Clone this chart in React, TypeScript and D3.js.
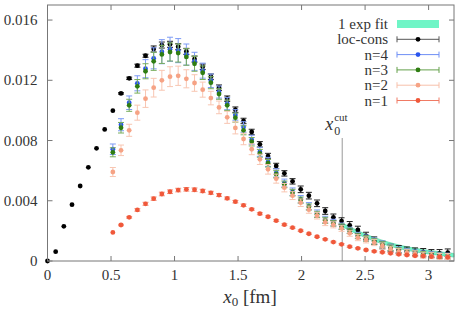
import React, { useRef, useEffect } from 'react';
import * as d3 from 'd3';

// lattice spacing in fm, x0 = i * a
const latticeA = 0.0643;

const locCons = [0, 0.00062, 0.0023, 0.00374, 0.00498, 0.00622, 0.00748, 0.00874, 0.00998, 0.01113,
  0.01213, 0.01297, 0.01363, 0.01408, 0.01434, 0.01439, 0.01423, 0.01392, 0.01341, 0.0129,
  0.01224, 0.01151, 0.01078, 0.01005, 0.0093, 0.00857, 0.00775, 0.00697, 0.00631, 0.00582,
  0.00529, 0.00476, 0.00434, 0.00383, 0.00332, 0.0029, 0.00265, 0.00237, 0.00206, 0.00166,
  0.00135, 0.00106, 0.00086, 0.00078, 0.00068, 0.00062, 0.00058, 0.00051, 0.00051, 0.00055];
const locConsErr = [0, 0.00003, 0.00003, 0.00003, 0.00003, 0.00003, 0.00003, 0.00003, 0.00003, 0.00005,
  0.00008, 0.0001, 0.0001, 0.0002, 0.0002, 0.0002, 0.0002, 0.0002, 0.0002, 0.00018,
  0.00018, 0.00018, 0.00018, 0.00018, 0.00018, 0.00018, 0.00018, 0.00018, 0.00018, 0.00018,
  0.00018, 0.00022, 0.00022, 0.00022, 0.00022, 0.00022, 0.00022, 0.00025, 0.00025, 0.00025,
  0.00025, 0.00025, 0.00025, 0.00025, 0.00025, 0.00025, 0.00025, 0.00025, 0.00025, 0.00025];

// n-series start at i = 8
const nStart = 8;
const n4 = [0.00742, 0.00905, 0.01051, 0.0118, 0.01277, 0.01346, 0.0139, 0.01406, 0.01397, 0.01371,
  0.01326, 0.01264, 0.01197, 0.01122, 0.01045, 0.0097, 0.0089, 0.00805, 0.00725, 0.00658,
  0.00585, 0.00518, 0.0046, 0.0041, 0.00364, 0.00315, 0.00275, 0.00255, 0.00232, 0.00204,
  0.0017, 0.00153, 0.00133, 0.00113, 0.0009, 0.00073, 0.00063, 0.00053, 0.00047, 0.00042,
  0.00037, 0.00032];
const n4Err = [0.00035, 0.0004, 0.00045, 0.0005, 0.0006, 0.0007, 0.0008, 0.0008, 0.0008, 0.0007,
  0.0006, 0.0005, 0.00045, 0.0004, 0.0004, 0.00035, 0.00035, 0.0003, 0.0003, 0.0003,
  0.00028, 0.00026, 0.00025, 0.00025, 0.00024, 0.00024, 0.00022, 0.00022, 0.0002, 0.0002,
  0.0002, 0.0002, 0.0002, 0.0002, 0.0002, 0.0002, 0.0002, 0.0002, 0.0002, 0.0002,
  0.0002, 0.0002];
const n3 = [0.00722, 0.00885, 0.01034, 0.0116, 0.0126, 0.01326, 0.01372, 0.01388, 0.01381, 0.01355,
  0.0131, 0.0125, 0.01184, 0.01109, 0.01034, 0.00952, 0.00868, 0.00792, 0.00715, 0.00649,
  0.00576, 0.00509, 0.00454, 0.00405, 0.00359, 0.0031, 0.0027, 0.0025, 0.00228, 0.002,
  0.00166, 0.0015, 0.0013, 0.0011, 0.00088, 0.0007, 0.0006, 0.0005, 0.00045, 0.0004,
  0.00035, 0.0003];
const n3Err = [0.0003, 0.00035, 0.0004, 0.00045, 0.0005, 0.0006, 0.0006, 0.0006, 0.0006, 0.00055,
  0.0005, 0.00045, 0.0004, 0.00035, 0.00035, 0.0003, 0.0003, 0.00028, 0.00026, 0.00025,
  0.00024, 0.00022, 0.00022, 0.0002, 0.0002, 0.0002, 0.0002, 0.00018, 0.00018, 0.00018,
  0.00018, 0.00018, 0.00018, 0.00018, 0.00018, 0.00018, 0.00018, 0.00018, 0.00018, 0.00018,
  0.00018, 0.00018];
const n2 = [0.00591, 0.00735, 0.00868, 0.00985, 0.01078, 0.01151, 0.012, 0.01224, 0.0123, 0.0121,
  0.01182, 0.01138, 0.01082, 0.0102, 0.00954, 0.00884, 0.0081, 0.00742, 0.00675, 0.00609,
  0.00547, 0.00487, 0.00434, 0.00387, 0.00341, 0.00301, 0.00257, 0.0024, 0.00217, 0.00184,
  0.00155, 0.0014, 0.00122, 0.001, 0.00078, 0.00062, 0.00055, 0.00047, 0.00038, 0.00035,
  0.0003, 0.0003];
const n2Err = [0.0003, 0.00035, 0.0004, 0.0005, 0.00058, 0.00062, 0.00066, 0.00066, 0.00064, 0.0006,
  0.00055, 0.0005, 0.00045, 0.00042, 0.0004, 0.0004, 0.00038, 0.00036, 0.00034, 0.00032,
  0.0003, 0.00028, 0.00026, 0.00025, 0.00024, 0.00022, 0.00022, 0.0002, 0.0002, 0.0002,
  0.0002, 0.0002, 0.0002, 0.0002, 0.0002, 0.0002, 0.0002, 0.0002, 0.0002, 0.0002,
  0.0002, 0.0002];
const n1 = [0.0019, 0.00239, 0.0029, 0.00339, 0.0038, 0.00414, 0.00445, 0.0046, 0.00471, 0.00476,
  0.00473, 0.00465, 0.00453, 0.00438, 0.00416, 0.00394, 0.0037, 0.00343, 0.00314, 0.00294,
  0.00268, 0.00241, 0.00221, 0.00201, 0.00181, 0.00161, 0.00144, 0.00126, 0.00111, 0.00095,
  0.00084, 0.00073, 0.00064, 0.00058, 0.00051, 0.00044, 0.0004, 0.00035, 0.00033, 0.00029,
  0.00027, 0.00025];
const n1Err = [0.00004, 0.00005, 0.00006, 0.00008, 0.0001, 0.00011, 0.00012, 0.00012, 0.00012, 0.00012,
  0.00012, 0.00011, 0.0001, 0.0001, 0.00009, 0.00008, 0.00008, 0.00007, 0.00007, 0.00006,
  0.00006, 0.00006, 0.00005, 0.00005, 0.00005, 0.00005, 0.00005, 0.00005, 0.00005, 0.00005,
  0.00005, 0.00005, 0.00005, 0.00005, 0.00005, 0.00005, 0.00005, 0.00005, 0.00005, 0.00005,
  0.00005, 0.00005];

// 1 exp fit band
const fitX = [2.32, 2.5, 2.75, 3.0, 3.2];
const fitY = [0.0024, 0.00168, 0.00098, 0.00059, 0.00038];
const fitHalfWidth = 0.00012;
const x0Cut = 2.32;

const xTicks = [0, 0.5, 1, 1.5, 2, 2.5, 3];
const yTicks = [0, 0.004, 0.008, 0.012, 0.016];
const yTickLabels = ['0', '0.004', '0.008', '0.012', '0.016'];

interface Series {
  label: string;
  values: number[];
  errs: number[];
  start: number;
  color: string;
  barColor: string;
}

const series: Series[] = [
  { label: 'loc-cons', values: locCons, errs: locConsErr, start: 0, color: '#000000', barColor: '#222222' },
  { label: 'n=4', values: n4, errs: n4Err, start: nStart, color: '#2a55ee', barColor: '#7d9bf5' },
  { label: 'n=3', values: n3, errs: n3Err, start: nStart, color: '#2f7d12', barColor: '#78ad5c' },
  { label: 'n=2', values: n2, errs: n2Err, start: nStart, color: '#f6a385', barColor: '#f8c6b2' },
  { label: 'n=1', values: n1, errs: n1Err, start: nStart, color: '#f0583a', barColor: '#f3947f' },
];

const legendLine: Record<string, string> = {
  'loc-cons': '#555555', 'n=4': '#6f8ff5', 'n=3': '#64a04a', 'n=2': '#f7c0aa', 'n=1': '#f07a64',
};

const W = 457, H = 314;
const margin = { top: 5, right: 3, bottom: 53, left: 47.5 };
const font = 'Liberation Serif, Times New Roman, serif';

const Chart: React.FC = () => {
  const ref = useRef<SVGSVGElement>(null);

  useEffect(() => {
    if (!ref.current) return;
    const svg = d3.select(ref.current);
    svg.selectAll('*').remove();

    const x = d3.scaleLinear().domain([0, 3.2]).range([margin.left, W - margin.right]);
    const y = d3.scaleLinear().domain([0, 0.017]).range([H - margin.bottom, margin.top]);
    const [x0, x1] = x.range();
    const [y0, y1] = y.range();
    const axisColor = '#777';
    const textColor = '#333';

    // fit band
    const band = d3.area<number>()
      .x((d, i) => x(fitX[i]))
      .y0((d) => y(d - fitHalfWidth))
      .y1((d) => y(d + fitHalfWidth))
      .curve(d3.curveMonotoneX);
    svg.append('path').datum(fitY).attr('d', band)
      .attr('fill', '#6ff5c6').attr('stroke', '#3fcf9a').attr('stroke-width', 0.6);

    // cut line
    svg.append('line')
      .attr('x1', x(x0Cut)).attr('x2', x(x0Cut))
      .attr('y1', 138).attr('y2', y0)
      .attr('stroke', '#999').attr('stroke-width', 1);

    const cut = svg.append('text').attr('x', x(x0Cut) - 17).attr('y', 130)
      .style('font-family', font).attr('fill', textColor);
    cut.append('tspan').attr('font-style', 'italic').attr('font-size', 18).text('x');
    cut.append('tspan').attr('font-size', 11).attr('dy', -9).attr('dx', 1).text('cut');
    svg.append('text').attr('x', x(x0Cut) - 8).attr('y', 135)
      .style('font-family', font).attr('font-size', 12).attr('fill', textColor).text('0');

    // series
    series.forEach((s) => {
      const g = svg.append('g');
      const pts = s.values.map((v, k) => ({ xv: (s.start + k) * latticeA, v, e: s.errs[k] }));
      const withErr = pts.filter((p) => p.e > 0.00004);
      g.selectAll('line.v').data(withErr).enter().append('line')
        .attr('x1', (d) => x(d.xv)).attr('x2', (d) => x(d.xv))
        .attr('y1', (d) => y(d.v - d.e)).attr('y2', (d) => y(d.v + d.e))
        .attr('stroke', s.barColor).attr('stroke-width', 1);
      [-1, 1].forEach((sign) => {
        g.selectAll(`line.c${sign}`).data(withErr).enter().append('line')
          .attr('x1', (d) => x(d.xv) - 3).attr('x2', (d) => x(d.xv) + 3)
          .attr('y1', (d) => y(d.v + sign * d.e)).attr('y2', (d) => y(d.v + sign * d.e))
          .attr('stroke', s.barColor).attr('stroke-width', 1);
      });
      g.selectAll('circle').data(pts).enter().append('circle')
        .attr('cx', (d) => x(d.xv)).attr('cy', (d) => y(d.v))
        .attr('r', 2.4).attr('fill', s.color);
    });

    // frame
    svg.append('rect').attr('x', x0).attr('y', y1).attr('width', x1 - x0).attr('height', y0 - y1)
      .attr('fill', 'none').attr('stroke', axisColor).attr('stroke-width', 1);

    // ticks
    xTicks.forEach((t) => {
      svg.append('line').attr('x1', x(t)).attr('x2', x(t)).attr('y1', y0).attr('y2', y0 - 5)
        .attr('stroke', axisColor);
      svg.append('line').attr('x1', x(t)).attr('x2', x(t)).attr('y1', y1).attr('y2', y1 + 5)
        .attr('stroke', axisColor);
      svg.append('text').attr('x', x(t)).attr('y', 280).attr('text-anchor', 'middle')
        .style('font-family', font).attr('font-size', 15).attr('fill', textColor).text(String(t));
    });
    yTicks.forEach((t, i) => {
      svg.append('line').attr('x1', x0).attr('x2', x0 + 5).attr('y1', y(t)).attr('y2', y(t))
        .attr('stroke', axisColor);
      svg.append('line').attr('x1', x1).attr('x2', x1 - 5).attr('y1', y(t)).attr('y2', y(t))
        .attr('stroke', axisColor);
      svg.append('text').attr('x', 37.5).attr('y', y(t) + 5).attr('text-anchor', 'end')
        .style('font-family', font).attr('font-size', 15).attr('fill', textColor).text(yTickLabels[i]);
    });

    // x label
    const xl = svg.append('text').attr('x', 250).attr('y', 303).attr('text-anchor', 'middle')
      .style('font-family', font).attr('fill', textColor);
    xl.append('tspan').attr('font-style', 'italic').attr('font-size', 19).text('x');
    xl.append('tspan').attr('font-size', 13).attr('dy', 3).text('0');
    xl.append('tspan').attr('font-size', 19).attr('dy', -3).text(' [fm]');

    // legend
    const lg = svg.append('g').style('font-family', font).attr('font-size', 15).attr('fill', textColor);
    const rowY = (i: number) => 24 + i * 15.3;
    const sx0 = 397, sx1 = 439;
    lg.append('text').attr('x', 388).attr('y', rowY(0) + 5).attr('text-anchor', 'end').text('1 exp fit');
    lg.append('rect').attr('x', sx0).attr('y', rowY(0) - 4).attr('width', sx1 - sx0).attr('height', 8)
      .attr('fill', '#6ff5c6');
    series.forEach((s, i) => {
      const yy = rowY(i + 1);
      lg.append('text').attr('x', 388).attr('y', yy + 5).attr('text-anchor', 'end').text(s.label);
      const c = legendLine[s.label];
      lg.append('line').attr('x1', sx0).attr('x2', sx1).attr('y1', yy).attr('y2', yy).attr('stroke', c);
      lg.append('line').attr('x1', sx0).attr('x2', sx0).attr('y1', yy - 3).attr('y2', yy + 3).attr('stroke', c);
      lg.append('line').attr('x1', sx1).attr('x2', sx1).attr('y1', yy - 3).attr('y2', yy + 3).attr('stroke', c);
      lg.append('circle').attr('cx', (sx0 + sx1) / 2).attr('cy', yy).attr('r', 2.4).attr('fill', s.color);
    });
  }, []);

  return <svg ref={ref} width={W} height={H} style={{ display: 'block' }} />;
};

export default function App() {
  return (
    <div style={{ position: 'fixed', left: 0, top: 0, width: W, height: H, background: '#fff' }}>
      <Chart />
    </div>
  );
}
